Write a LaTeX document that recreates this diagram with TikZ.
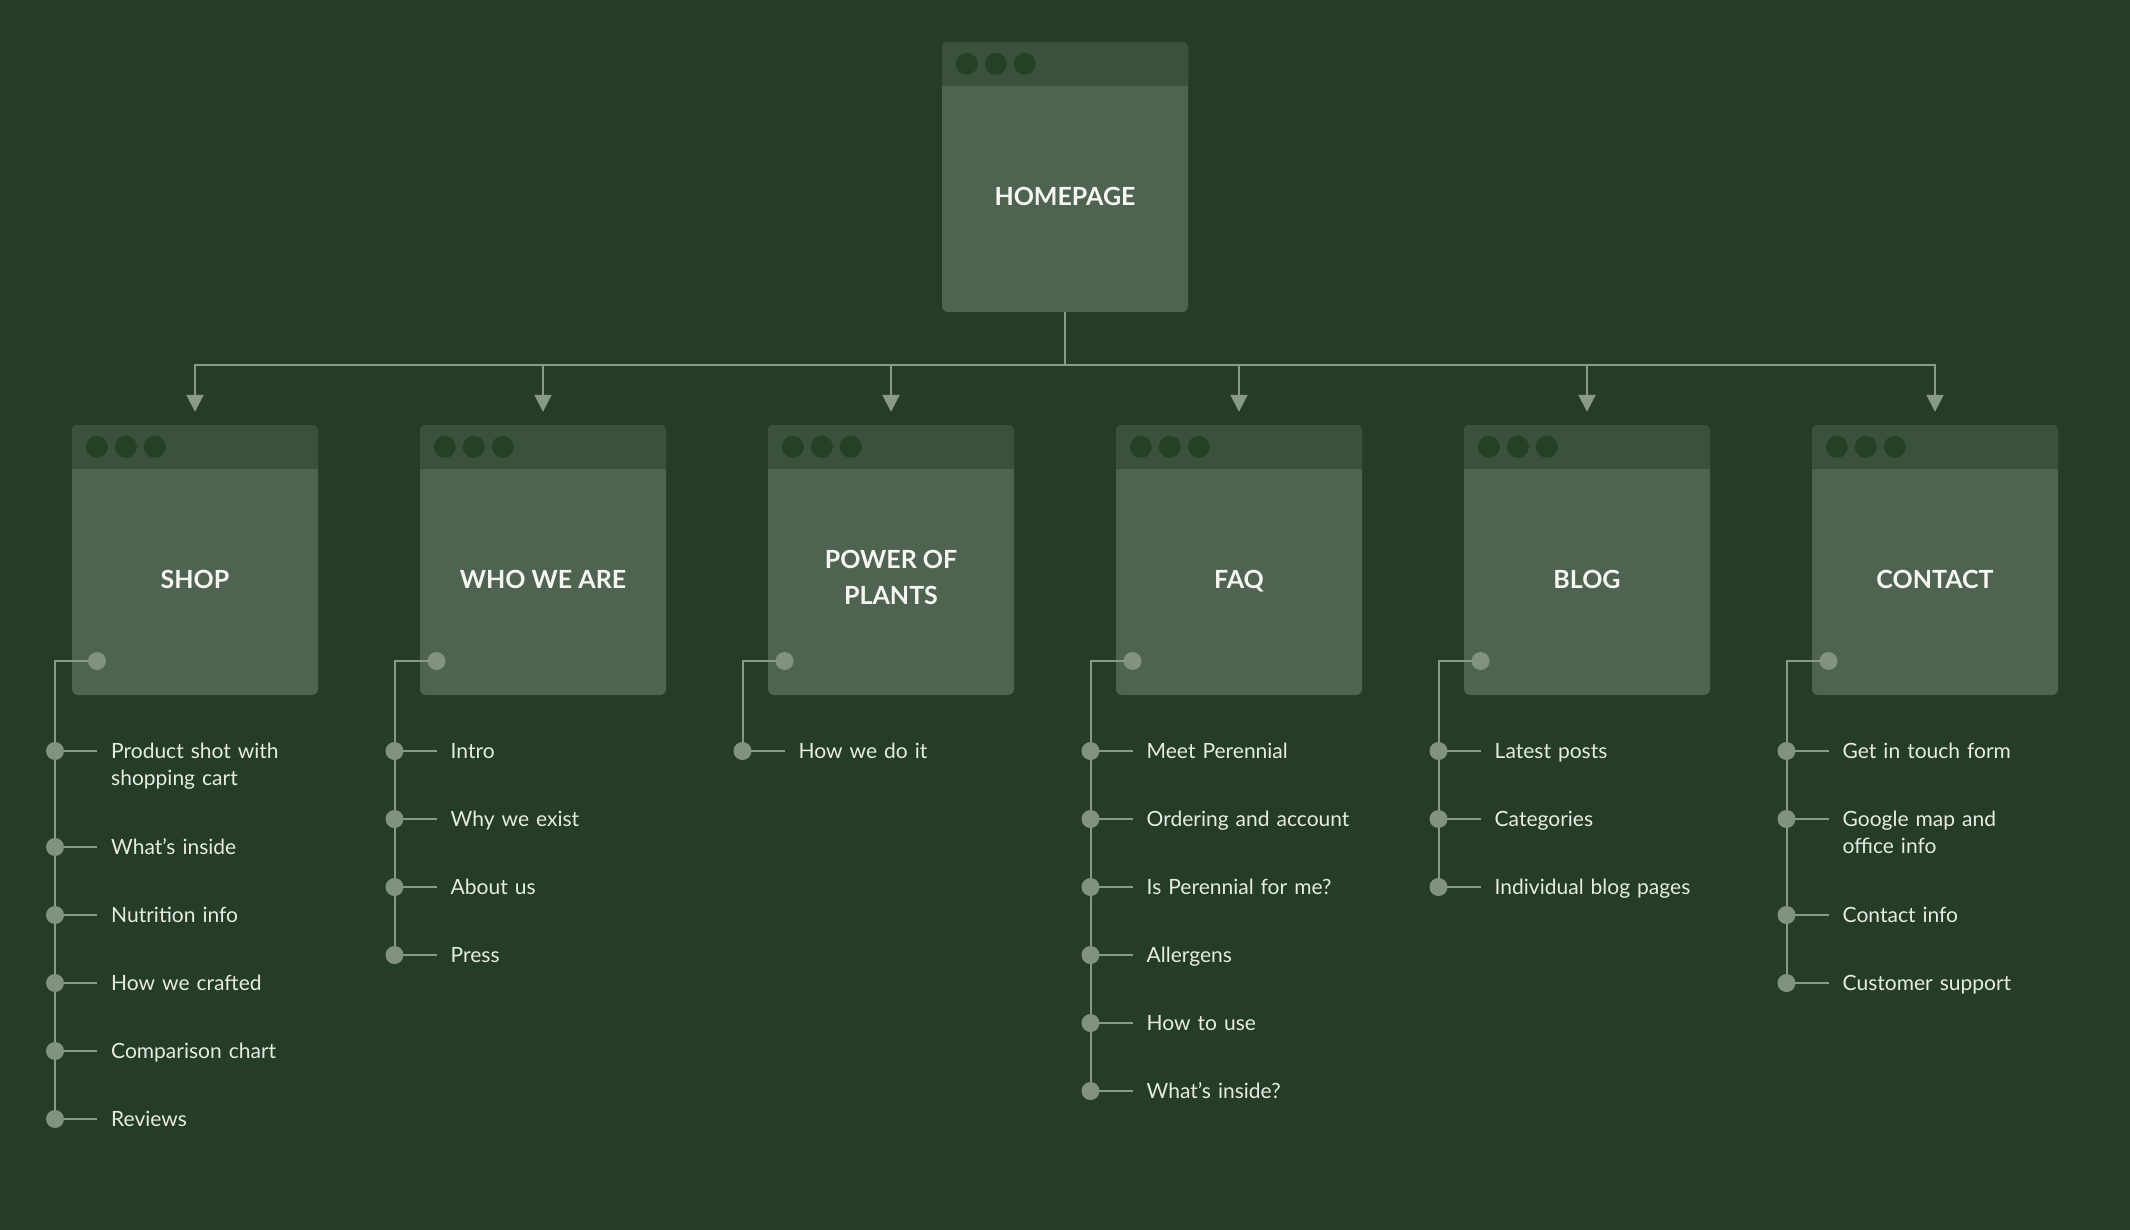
\documentclass[tikz,border=0pt]{standalone}
\usepackage{fontspec}
\setmainfont{Lato}
\usetikzlibrary{arrows.meta}
\definecolor{bgc}{HTML}{253C26}
\definecolor{bodyc}{HTML}{4F6450}
\definecolor{headc}{HTML}{3A523C}
\definecolor{hdotc}{HTML}{264028}
\definecolor{linec}{HTML}{8A9A88}
\definecolor{dotc}{HTML}{829280}
\definecolor{itemc}{HTML}{E6ECE2}
\definecolor{titlec}{HTML}{F7F7F2}
\pgfdeclarelayer{boxes}
\pgfdeclarelayer{lines}
\pgfsetlayers{boxes,lines,main}
\tikzset{
  pagebody/.style={minimum width=246pt, minimum height=270pt, inner sep=0pt, fill=bodyc, rounded corners=6pt},
  conn/.style={draw=linec, line width=2pt},
  idot/.style={circle, fill=dotc, minimum size=18pt, inner sep=0pt},
  cdot/.style={circle, fill=dotc, minimum size=18pt, inner sep=0pt},
  itemt/.style={anchor=base west, inner sep=0pt, text=itemc, font=\fontsize{21}{27}\selectfont, text width=320pt, align=left},
  titlet/.style={text=titlec, font=\bfseries\fontsize{25}{36}\selectfont, align=center, inner sep=0pt, text depth=0pt}
}
\newcommand\mkpage[5]{%
  \begin{pgfonlayer}{boxes}
    \node[pagebody] (#1) at (#2,#3) {};
    \begin{scope}
      \clip[rounded corners=6pt] (#1.north west) rectangle (#1.south east);
      \fill[headc] (#1.north west) rectangle ([yshift=-44pt]#1.north east);
    \end{scope}
    \foreach \dx in {25,54,83} \fill[hdotc] ([xshift=\dx pt,yshift=-22pt]#1.north west) circle[radius=11pt];
  \end{pgfonlayer}
  \node[titlet] (#1-title) at (#2,#4) {#5};
}
\newcommand\mkconn[2]{%
  \node[cdot] (#1-d) at ({#2+42},661) {};
}
\newcommand\mkitem[4]{%
  \node[idot] (#1) at (#2,#3) {};
  \coordinate (#1-e) at ({#2+42},#3);
  \node[itemt] (#1-t) at ({#2+56},{#3+7}) {#4};
  \begin{pgfonlayer}{lines}\draw[conn] (#1.center) -- (#1-e);\end{pgfonlayer}
}
\newcommand\mktrunk[2]{%
  \begin{pgfonlayer}{lines}\draw[conn] (#1-d.center) -| (#2.center);\end{pgfonlayer}
}
\begin{document}
\begin{tikzpicture}[x=1pt,y=-1pt]
\begin{pgfonlayer}{boxes}
  \fill[bgc] (0,0) rectangle (2130,1230);
\end{pgfonlayer}
\useasboundingbox (0,0) rectangle (2130,1230);

\mkpage{home}{1065}{177}{196}{HOMEPAGE}
\mkpage{shop}{195}{560}{579}{SHOP}
\mkpage{who}{543}{560}{579}{WHO WE ARE}
\mkpage{power}{891}{560}{577}{POWER OF\\PLANTS}
\mkpage{faq}{1239}{560}{579}{FAQ}
\mkpage{blog}{1587}{560}{579}{BLOG}
\mkpage{contact}{1935}{560}{579}{CONTACT}

\begin{pgfonlayer}{lines}
  \coordinate (hj) at (1065,365);
  \draw[conn] (home.south) -- (hj);
  \foreach \n in {shop,who,power,faq,blog,contact}
    \draw[conn,-{Triangle[width=17pt,length=17pt]}] (hj) -| ([yshift=13pt]\n.north);
\end{pgfonlayer}

% SHOP
\mkconn{shop}{55}
\mkitem{shop1}{55}{751}{Product shot with\\shopping cart}
\mkitem{shop2}{55}{847}{What’s inside}
\mkitem{shop3}{55}{915}{Nutrition info}
\mkitem{shop4}{55}{983}{How we crafted}
\mkitem{shop5}{55}{1051}{Comparison chart}
\mkitem{shop6}{55}{1119}{Reviews}
\mktrunk{shop}{shop6}

% WHO WE ARE
\mkconn{who}{394.5}
\mkitem{who1}{394.5}{751}{Intro}
\mkitem{who2}{394.5}{819}{Why we exist}
\mkitem{who3}{394.5}{887}{About us}
\mkitem{who4}{394.5}{955}{Press}
\mktrunk{who}{who4}

% POWER OF PLANTS
\mkconn{power}{742.5}
\mkitem{power1}{742.5}{751}{How we do it}
\mktrunk{power}{power1}

% FAQ
\mkconn{faq}{1090.5}
\mkitem{faq1}{1090.5}{751}{Meet Perennial}
\mkitem{faq2}{1090.5}{819}{Ordering and account}
\mkitem{faq3}{1090.5}{887}{Is Perennial for me?}
\mkitem{faq4}{1090.5}{955}{Allergens}
\mkitem{faq5}{1090.5}{1023}{How to use}
\mkitem{faq6}{1090.5}{1091}{What’s inside?}
\mktrunk{faq}{faq6}

% BLOG
\mkconn{blog}{1438.5}
\mkitem{blog1}{1438.5}{751}{Latest posts}
\mkitem{blog2}{1438.5}{819}{Categories}
\mkitem{blog3}{1438.5}{887}{Individual blog pages}
\mktrunk{blog}{blog3}

% CONTACT
\mkconn{contact}{1786.5}
\mkitem{contact1}{1786.5}{751}{Get in touch form}
\mkitem{contact2}{1786.5}{819}{Google map and\\office info}
\mkitem{contact3}{1786.5}{915}{Contact info}
\mkitem{contact4}{1786.5}{983}{Customer support}
\mktrunk{contact}{contact4}
\end{tikzpicture}
\end{document}
